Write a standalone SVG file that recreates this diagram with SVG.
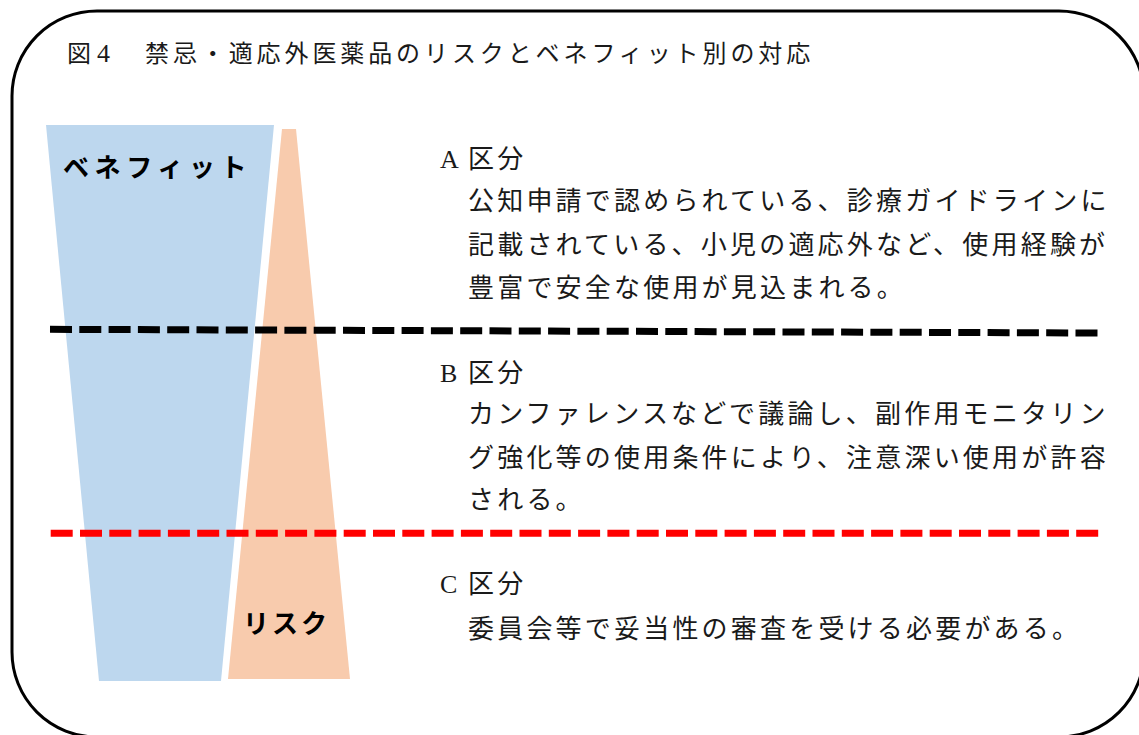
<svg xmlns="http://www.w3.org/2000/svg" width="1139" height="735" viewBox="0 0 1139 735">
<style>
.t{font-family:"Noto Sans CJK JP","Noto Sans",sans-serif;font-size:26px;fill:#1a1a1a;letter-spacing:3.2px}
.lat{font-family:"Liberation Serif",serif;letter-spacing:0}
.ttl{font-family:"Noto Sans CJK JP","Noto Sans",sans-serif;font-size:24px;fill:#1a1a1a;letter-spacing:3.9px}
.lbl{font-family:"Noto Sans CJK JP",sans-serif;font-size:26px;font-weight:bold;fill:#000}
.dash{fill:none;stroke-width:7;stroke-dasharray:22 7.3}
</style>
<rect width="1139" height="735" fill="#fff"/>
<rect x="12" y="11" width="1132" height="726" rx="85" ry="85" fill="none" stroke="#000" stroke-width="3"/>
<g id="title">
<text class="ttl" x="67" y="62">図<tspan class="lat" x="97" font-size="26">4</tspan><tspan x="145">禁忌・適応外医薬品のリスクとベネフィット別の対応</tspan></text>
</g>
<g id="benefit">
<polygon points="46,125 274,125 221,681 99,681" fill="#BDD7EE"/>
<text class="lbl" x="63" y="177" letter-spacing="5.6">ベネフィット</text>
</g>
<g id="risk">
<polygon points="282,129 296,129 350,679 228,679" fill="#F8CBAD"/>
<text class="lbl" x="243" y="633" letter-spacing="3">リスク</text>
</g>
<g id="connectors">
<line class="dash" x1="50" y1="329.3" x2="1099" y2="333" stroke="#000"/>
<line class="dash" x1="50.7" y1="533.3" x2="1099" y2="533.3" stroke="#FF0000"/>
</g>
<g id="sectionA">
<text class="t" x="440" y="168"><tspan class="lat">A</tspan><tspan x="468">区分</tspan></text>
<text class="t" x="468" y="210">公知申請で認められている、診療ガイドラインに</text>
<text class="t" x="468" y="254">記載されている、小児の適応外など、使用経験が</text>
<text class="t" x="468" y="297">豊富で安全な使用が見込まれる。</text>
</g>
<g id="sectionB">
<text class="t" x="440" y="382"><tspan class="lat">B</tspan><tspan x="468">区分</tspan></text>
<text class="t" x="468" y="423">カンファレンスなどで議論し、副作用モニタリン</text>
<text class="t" x="468" y="467">グ強化等の使用条件により、注意深い使用が許容</text>
<text class="t" x="468" y="509">される。</text>
</g>
<g id="sectionC">
<text class="t" x="440" y="593"><tspan class="lat">C</tspan><tspan x="468">区分</tspan></text>
<text class="t" x="468" y="638">委員会等で妥当性の審査を受ける必要がある。</text>
</g>
</svg>
